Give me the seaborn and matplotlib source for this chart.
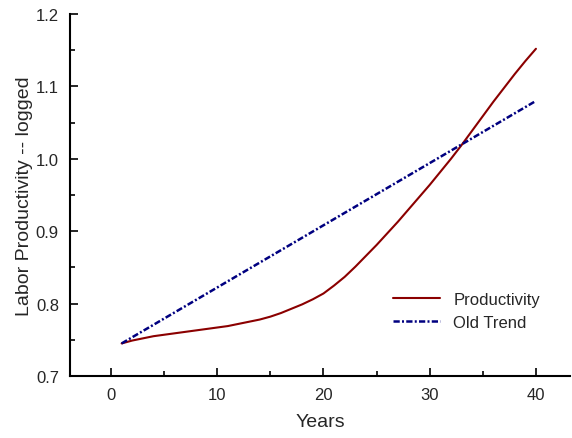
import matplotlib
matplotlib.use("Agg")
import matplotlib.pyplot as plt
from matplotlib.ticker import MultipleLocator
import numpy as np
import pandas as pd
import seaborn as sns

# values
years = list(range(1, 41))
productivity = [0.745, 0.749, 0.752, 0.755, 0.757, 0.759, 0.761, 0.763, 0.765, 0.767,
                0.769, 0.772, 0.775, 0.778, 0.782, 0.787, 0.793, 0.799, 0.806, 0.814,
                0.825, 0.837, 0.851, 0.866, 0.881, 0.897, 0.913, 0.930, 0.947, 0.964,
                0.982, 1.000, 1.019, 1.039, 1.059, 1.079, 1.098, 1.117, 1.135, 1.152]
trend_years = [1, 40]
old_trend = [0.745, 1.08]

prod_df = pd.DataFrame({"Years": years, "value": productivity})
trend_df = pd.DataFrame({"Years": trend_years, "value": old_trend})

sns.set_style("ticks", {"xtick.direction": "in", "ytick.direction": "in"})
plt.rcParams['font.family'] = ['Liberation Sans', 'DejaVu Sans']
plt.rcParams['xtick.direction'] = 'in'
plt.rcParams['ytick.direction'] = 'in'

fig = plt.figure(figsize=(5.72, 4.39), dpi=100)
ax = fig.add_axes([0.1224, 0.1412, 0.874, 0.8246])

sns.lineplot(data=prod_df, x="Years", y="value", ax=ax, color="#8b0000",
             linewidth=1.5, label="Productivity")
sns.lineplot(data=trend_df, x="Years", y="value", ax=ax, color="#000080",
             linewidth=1.8, label="Old Trend", dashes=False)
ax.lines[1].set_dashes([2.5, 0.9, 0.8, 0.9])

ax.set_xlim(-3.86, 43.2)
ax.set_ylim(0.7, 1.2)
ax.xaxis.set_major_locator(MultipleLocator(10))
ax.xaxis.set_minor_locator(MultipleLocator(5))
ax.yaxis.set_major_locator(MultipleLocator(0.1))
ax.yaxis.set_minor_locator(MultipleLocator(0.05))

sns.despine(ax=ax)
ax.tick_params(which="both", direction="in", labelsize=12, width=1.2, color="black")
ax.tick_params(which="major", length=6, pad=8)
ax.tick_params(which="minor", length=3.5)
ax.set_xlabel("Years", fontsize=14, labelpad=8)
ax.set_ylabel("Labor Productivity -- logged", fontsize=14, labelpad=2)

for s in ("left", "bottom"):
    ax.spines[s].set_linewidth(1.5)
    ax.spines[s].set_color("black")

leg = ax.legend(loc="lower right", bbox_to_anchor=(0.97, 0.085), frameon=False,
                fontsize=12, handlelength=2.8, labelspacing=0.5, handletextpad=0.8)

fig.savefig("out.png", dpi=100)
